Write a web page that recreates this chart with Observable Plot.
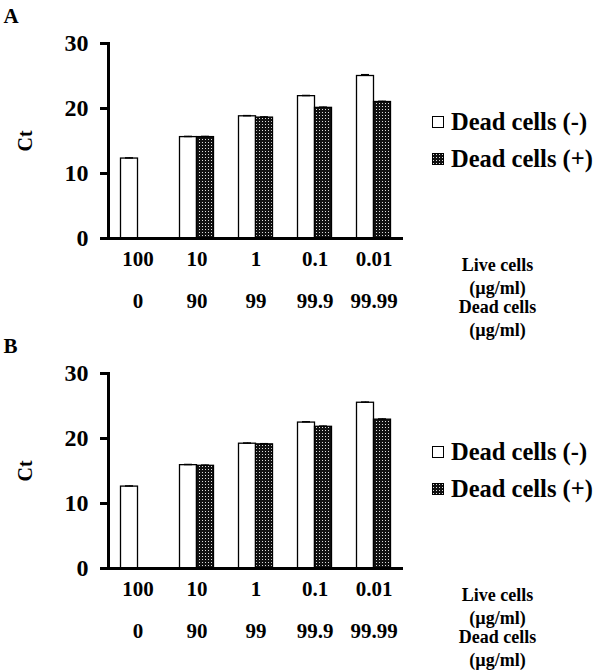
<!DOCTYPE html>
<html><head><meta charset="utf-8">
<script src="https://cdn.jsdelivr.net/npm/d3@7"></script>
<script src="https://cdn.jsdelivr.net/npm/@observablehq/plot@0.6"></script>
<style>
body{margin:0;background:#fff;font-family:"Liberation Serif","Times New Roman",serif;}
.panel{position:relative;width:600px;}
.panel > svg{background:transparent;}
.legend{position:absolute;left:432px;top:103px;font-weight:bold;font-size:24.5px;color:#000;}
.legend .row{display:flex;align-items:center;height:37px;white-space:nowrap;}
.legend svg{margin-right:7px;display:block;}
</style></head><body>
<svg width="0" height="0" style="position:absolute">
  <defs>
    <pattern id="dots" width="3" height="3" patternUnits="userSpaceOnUse">
      <rect width="3" height="3" fill="#111"/>
      <rect x="1" y="1" width="1" height="1" fill="#ddd"/>
    </pattern>
  </defs>
</svg>
<div id="chart"></div>
<script>
// categories
const liveCells = ["100", "10", "1", "0.1", "0.01"];
const deadCells = ["0", "90", "99", "99.9", "99.99"];
const seriesNames = ["Dead cells (-)", "Dead cells (+)"];
const yTicks = [0, 10, 20, 30];

// panel A values (Ct)
const ctA_neg = [12.3, 15.6, 18.8, 21.9, 25.0];
const ctA_pos = [null, 15.6, 18.6, 20.1, 21.0];
const errA_neg = [0.1, 0.1, 0.1, 0.1, 0.2];
const errA_pos = [null, 0.1, 0.1, 0.1, 0.1];

// panel B values (Ct)
const ctB_neg = [12.6, 15.9, 19.2, 22.45, 25.5];
const ctB_pos = [null, 15.8, 19.1, 21.8, 22.9];
const errB_neg = [0.1, 0.1, 0.1, 0.12, 0.1];
const errB_pos = [null, 0.1, 0.1, 0.1, 0.1];

const FONT = "Liberation Serif";

function panel(label, neg, pos, eNeg, ePos, height) {
  const rows = liveCells.map((live, i) => ({
    live, dead: deadCells[i], neg: neg[i], pos: pos[i], eNeg: eNeg[i], ePos: ePos[i]
  }));
  const posRows = rows.filter(d => d.pos != null);
  const svg = Plot.plot({
    width: 600,
    height,
    marginLeft: 108,
    marginRight: 197,
    marginTop: 43,
    marginBottom: height - 238,
    style: {fontFamily: FONT, fontWeight: "bold", background: "transparent", overflow: "visible", color: "black"},
    x: {type: "band", domain: liveCells, padding: 0, axis: null},
    y: {domain: [0, 30], axis: null},
    marks: [
      Plot.barY(rows, {x: "live", y: "neg", fill: "white", stroke: "black", strokeWidth: 1.3, insetLeft: 12.5, insetRight: 29.5}),
      Plot.barY(posRows, {x: "live", y: "pos", fill: "url(#dots)", stroke: "black", strokeWidth: 1.3, insetLeft: 29.5, insetRight: 12.5}),
      Plot.ruleX(rows, {x: "live", y1: "neg", y2: d => d.neg + d.eNeg, dx: -8.5, stroke: "black", strokeWidth: 1.3}),
      Plot.tickY(rows, {x: "live", y: d => d.neg + d.eNeg, insetLeft: 17, insetRight: 34, stroke: "black", strokeWidth: 1.5}),
      Plot.ruleX(posRows, {x: "live", y1: "pos", y2: d => d.pos + d.ePos, dx: 8.5, stroke: "black", strokeWidth: 1.3}),
      Plot.tickY(posRows, {x: "live", y: d => d.pos + d.ePos, insetLeft: 34, insetRight: 17, stroke: "black", strokeWidth: 1.5}),
      Plot.frame({anchor: "left", stroke: "black", strokeWidth: 3}),
      Plot.ruleY([0], {stroke: "black", strokeWidth: 3}),
      Plot.axisY(yTicks, {tickSize: 8, tickPadding: 12, fontSize: 24, fontWeight: "bold", fontFamily: FONT, stroke: "black", strokeWidth: 3, label: null}),
      Plot.text(["Ct"], {text: d => d, frameAnchor: "left", dx: -83, rotate: -90, textAnchor: "middle", fontSize: 20, fontWeight: "bold", fontFamily: FONT}),
      Plot.text([label], {text: d => d, frameAnchor: "top-left", dx: -105, dy: -21, textAnchor: "start", lineAnchor: "bottom", fontSize: 21, fontWeight: "bold", fontFamily: FONT}),
      Plot.text(rows, {x: "live", text: "live", frameAnchor: "bottom", dy: 27, fontSize: 21, fontWeight: "bold", fontFamily: FONT}),
      Plot.text(rows, {x: "live", text: "dead", frameAnchor: "bottom", dy: 69, fontSize: 21, fontWeight: "bold", fontFamily: FONT}),
      Plot.text(["Live cells\n(µg/ml)"], {text: d => d, frameAnchor: "bottom-right", dx: 94, dy: 36.5, textAnchor: "middle", lineAnchor: "middle", lineHeight: 1.28, fontSize: 18, fontWeight: "bold", fontFamily: FONT}),
      Plot.text(["Dead cells\n(µg/ml)"], {text: d => d, frameAnchor: "bottom-right", dx: 94, dy: 78.5, textAnchor: "middle", lineAnchor: "middle", lineHeight: 1.28, fontSize: 18, fontWeight: "bold", fontFamily: FONT})
    ]
  });
  const div = document.createElement("div");
  div.className = "panel";
  div.style.height = height + "px";
  div.appendChild(svg);
  const leg = document.createElement("div");
  leg.className = "legend";
  const fills = ["white", "url(#dots)"];
  seriesNames.forEach((name, i) => {
    const row = document.createElement("div");
    row.className = "row";
    row.innerHTML = `<svg width="12" height="12"><rect x="0.5" y="0.5" width="11" height="11" fill="${fills[i]}" stroke="black" stroke-width="1"/></svg><span>${name}</span>`;
    leg.appendChild(row);
  });
  div.appendChild(leg);
  return div;
}

const chart = document.getElementById("chart");
chart.appendChild(panel("A", ctA_neg, ctA_pos, errA_neg, errA_pos, 330));
chart.appendChild(panel("B", ctB_neg, ctB_pos, errB_neg, errB_pos, 340));
</script>
</body></html>
